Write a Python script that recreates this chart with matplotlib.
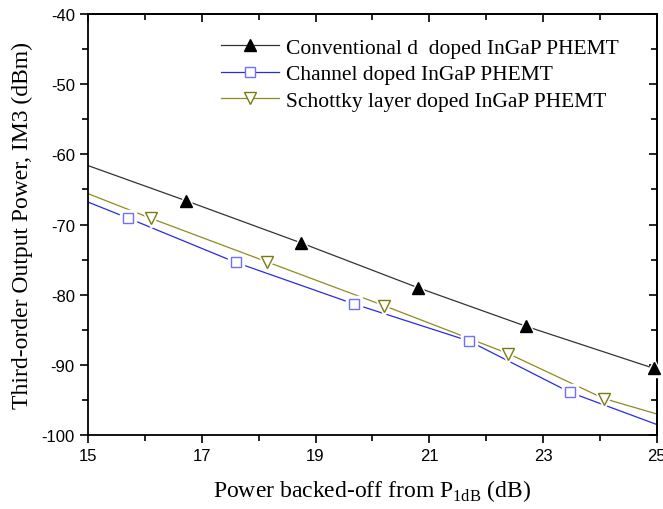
import numpy as np
import matplotlib
matplotlib.use("Agg")
import matplotlib.pyplot as plt
from matplotlib.ticker import MultipleLocator, FixedLocator

plt.rcParams['mathtext.fontset'] = 'custom'
plt.rcParams['mathtext.rm'] = 'Liberation Serif'
plt.rcParams['axes.unicode_minus'] = False

# data (first and last points are line ends, no marker)
x_conv = [15.0, 16.72, 18.74, 20.8, 22.7, 24.95]
y_conv = [-61.6, -66.6, -72.6, -79.0, -84.5, -90.5]

x_chan = [15.0, 15.71, 17.6, 19.67, 21.7, 23.47, 25.0]
y_chan = [-66.8, -69.1, -75.4, -81.3, -86.6, -93.9, -98.5]

x_scho = [15.0, 16.1, 18.14, 20.2, 22.39, 24.07, 25.0]
y_scho = [-65.6, -69.1, -75.3, -81.55, -88.4, -94.8, -97.0]

labels = ['Conventional d  doped InGaP PHEMT',
          'Channel doped InGaP PHEMT',
          'Schottky layer doped InGaP PHEMT']

x_major = [15, 17, 19, 21, 23, 25]

fig = plt.figure(figsize=(6.63, 5.1), dpi=100)
ax = fig.add_axes([0.1327, 0.145, 0.858, 0.8256])


def draw(x, y, color, mcolor, marker, ms, face, label, mark_idx):
    ax.plot(x, y, color=color, lw=0.9, zorder=2)
    xm = [x[i] for i in mark_idx]
    ym = [y[i] for i in mark_idx]
    # white halo so the line stops short of the marker (Origin look)
    ax.plot(xm, ym, linestyle='none', marker=marker, ms=ms + 5,
            mfc='white', mec='white', zorder=3, clip_on=False)
    ax.plot(xm, ym, linestyle='none', marker=marker, ms=ms, mfc=face,
            mec=mcolor, mew=1.0, zorder=4, clip_on=False)
    # legend proxy
    ax.plot([], [], color=color, lw=0.9, marker=marker, ms=ms, mfc=face,
            mec=mcolor, mew=1.0, label=label)


draw(x_conv, y_conv, '#333333', 'black', '^', 8, 'black', labels[0], range(1, 6))
draw(x_chan, y_chan, '#2a2ae8', '#7070ff', 's', 7, 'white', labels[1], range(1, 6))
draw(x_scho, y_scho, '#8c8c20', '#7a7a10', 'v', 9, 'white', labels[2], range(1, 6))

ax.set_xlim(15, 25)
ax.set_ylim(-100, -40)
ax.xaxis.set_major_locator(FixedLocator(x_major))
ax.xaxis.set_minor_locator(MultipleLocator(1))
ax.yaxis.set_major_locator(MultipleLocator(10))
ax.yaxis.set_minor_locator(MultipleLocator(5))
ax.tick_params(which='both', direction='out', width=1.2, top=False, right=False)
ax.tick_params(which='major', length=6, labelsize=12)
ax.tick_params(which='minor', length=4)
for lab in ax.get_xticklabels() + ax.get_yticklabels():
    lab.set_fontfamily('Liberation Sans')

# inward ticks on the top and right spines
sec_x = ax.secondary_xaxis('top')
sec_x.xaxis.set_major_locator(FixedLocator(x_major))
sec_x.xaxis.set_minor_locator(MultipleLocator(1))
sec_x.tick_params(which='both', direction='in', width=1.2, labeltop=False)
sec_x.tick_params(which='major', length=6)
sec_x.tick_params(which='minor', length=4)
sec_y = ax.secondary_yaxis('right')
sec_y.yaxis.set_major_locator(MultipleLocator(10))
sec_y.yaxis.set_minor_locator(MultipleLocator(5))
sec_y.tick_params(which='both', direction='in', width=1.2, labelright=False)
sec_y.tick_params(which='major', length=6)
sec_y.tick_params(which='minor', length=4)
for s in list(ax.spines.values()) + [sec_x.spines['top'], sec_y.spines['right']]:
    s.set_linewidth(1.3)

ax.set_xlabel(r'Power backed-off from P$_{\mathregular{1dB}}$ (dB)',
              fontfamily='Liberation Serif', fontsize=17, labelpad=10)
ax.set_ylabel('Third-order Output Power, IM3 (dBm)',
              fontfamily='Liberation Serif', fontsize=17, labelpad=6)

ax.legend(loc='upper left', bbox_to_anchor=(0.2, 0.99), frameon=False,
          prop={'family': 'Liberation Serif', 'size': 15.5},
          handlelength=2.7, handletextpad=0.3, labelspacing=0.3)

fig.savefig('out.png', dpi=100)
